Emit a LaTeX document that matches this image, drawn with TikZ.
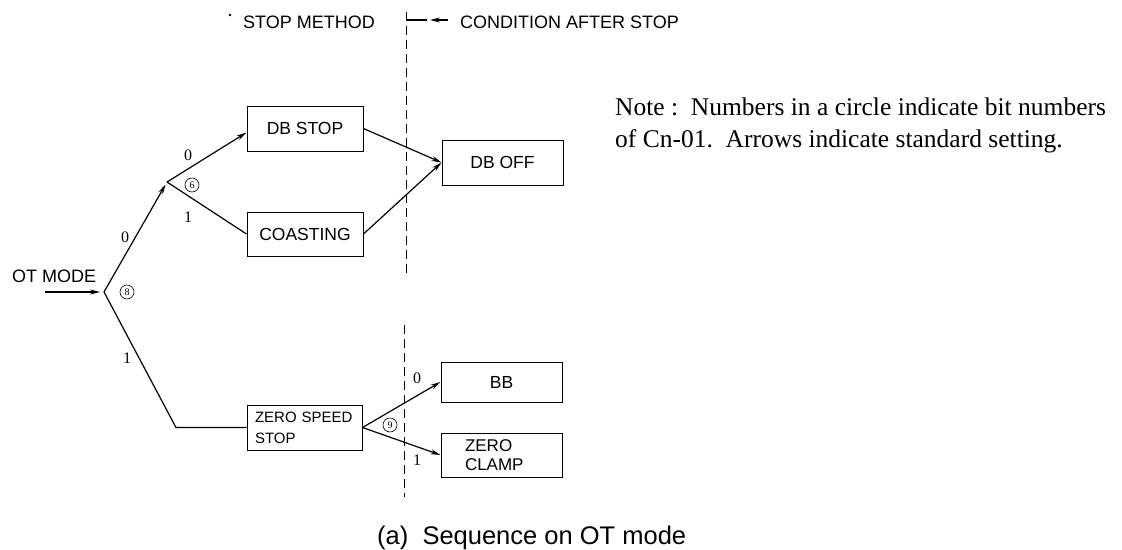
\documentclass[tikz,border=0pt]{standalone}
\usepackage{fontspec}
\setmainfont{Liberation Serif}
\setsansfont{Liberation Sans}
\usetikzlibrary{arrows.meta}
\begin{document}
\begin{tikzpicture}[x=1pt,y=-1pt,
  box/.style={draw, line width=1pt, inner sep=0pt, font=\sffamily\fontsize{17.5}{20}\selectfont},
  lbl/.style={inner sep=0pt, font=\fontsize{16}{16}\selectfont},
  bit/.style={draw, circle, line width=0.6pt, minimum size=14pt, inner sep=0pt, font=\fontsize{10}{10}\selectfont},
  conn/.style={line width=1.2pt},
  arr/.style={conn, -{Stealth[length=10pt,width=5pt]}},
  divider/.style={line width=1pt, dash pattern=on 9pt off 5pt},
  head/.style={inner sep=0pt, anchor=base west, font=\sffamily\fontsize{18}{20}\selectfont},
  notetext/.style={inner sep=0pt, anchor=base west, font=\fontsize{25.5}{30}\selectfont}]
\useasboundingbox (0,0) rectangle (1122,549);

% headings
\fill (230,15) circle (1.3pt);
\node[head] (stopm) at (243,28.5) {STOP METHOD};
\node[head] (cond) at (460,28.5) {CONDITION AFTER STOP};
\coordinate (dtop) at (406,12);
\coordinate (dbot) at (406,277);
\draw[divider] (dtop) -- (dbot);
\coordinate (cl) at (406,20);
\coordinate (cm) at (427,20);
\coordinate (ctip) at (430,20);
\coordinate (ctail) at (448,20);
\draw[conn] (cl) -- (cm);
\draw[arr] (ctail) -- (ctip);

% lower divider
\coordinate (ltop) at (404,325);
\coordinate (lbot) at (404,497);
\draw[divider] (ltop) -- (lbot);

% boxes
\node[box, minimum width=116pt, minimum height=45pt] (dbstop) at (305,128.5) {DB STOP};
\node[box, minimum width=116pt, minimum height=44pt] (coast) at (305,234) {COASTING};
\node[box, minimum width=121pt, minimum height=45pt] (dboff) at (502.5,162.5) {DB OFF};
\node[box, minimum height=45pt, text width=99pt, inner xsep=8pt, align=left,
      font=\sffamily\fontsize{15}{21}\selectfont] (zss) at (304.5,427.5) {ZERO SPEED\\STOP};
\node[box, minimum width=121pt, minimum height=40pt] (bb) at (501.5,382) {BB};
\node[box, minimum height=44pt, text width=73pt, inner xsep=24pt, align=left,
      font=\sffamily\fontsize{17}{19.5}\selectfont] (zc) at (501.5,455) {ZERO\\CLAMP};

% input
\node[head] (ot) at (12,282.5) {OT MODE};
\coordinate (otin) at (45,292);
\coordinate (b8) at (104,292);
\coordinate (b6) at (167,182);
\coordinate (c) at (176,427.5);

% connectors
\draw[arr, shorten >=4pt] (otin) -- (b8);
\draw[arr, shorten >=3pt] (b8) -- (b6);
\draw[conn] (b8) -- (c) -- (zss.west);
\draw[arr] (b6) -- ([yshift=-4pt]dbstop.west);
\draw[conn] (b6) -- (coast.west);
\draw[arr] (dbstop.east) -- (dboff.west);
\draw[arr] (coast.east) -- (dboff.west);
\draw[arr] (zss.east) -- (bb.west);
\draw[arr] (zss.east) -- (zc.west);

% branch labels
\node[lbl] (l6a) at (188,155) {0};
\node[lbl] (l6b) at (188,217) {1};
\node[lbl] (l8a) at (125,237) {0};
\node[lbl] (l8b) at (127,358) {1};
\node[lbl] (l9a) at (417,378) {0};
\node[lbl] (l9b) at (417,460) {1};
\node[bit] (bit6) at (192,185) {6};
\node[bit] (bit8) at (127,292) {8};
\node[bit] (bit9) at (390,425) {9};

% note and caption
\node[notetext] (note1) at (615,115) {Note :\ \ Numbers in a circle indicate bit numbers};
\node[notetext] (note2) at (615,147) {of Cn-01.\ \ Arrows indicate standard setting.};
\node[inner sep=0pt, anchor=base west, font=\sffamily\fontsize{25.5}{30}\selectfont] (cap) at (377,544) {(a)\ \ Sequence on OT mode};
\end{tikzpicture}
\end{document}
